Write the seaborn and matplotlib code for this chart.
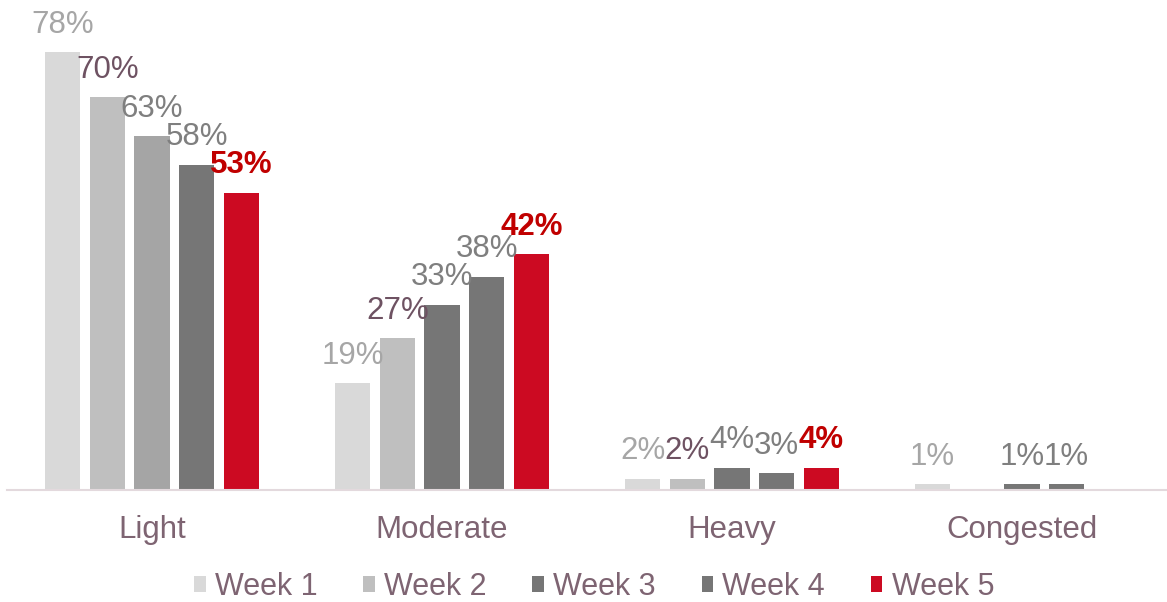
import pandas as pd
import matplotlib.pyplot as plt
import seaborn as sns

categories = ["Light", "Moderate", "Heavy", "Congested"]
weeks = ["Week 1", "Week 2", "Week 3", "Week 4", "Week 5"]
week1 = [78, 19, 2, 1]
week2 = [70, 27, 2, 0]
week3 = [63, 33, 4, 1]
week4 = [58, 38, 3, 1]
week5 = [53, 42, 4, 0]

bar_colors = ["#D9D9D9", "#BFBFBF", "#767676", "#767676", "#CC0A22"]
label_colors = ["#A6A6A6", "#6E5262", "#7F7F7F", "#7F7F7F", "#C00000"]
text_color = "#7E6472"

df = pd.DataFrame({"category": categories, "Week 1": week1, "Week 2": week2,
                   "Week 3": week3, "Week 4": week4, "Week 5": week5})
df = df.melt(id_vars="category", var_name="week", value_name="value")

sns.set_style("white")
plt.rcParams["font.family"] = ["Liberation Sans", "DejaVu Sans"]

fig = plt.figure(figsize=(11.67, 6.02), dpi=100)
ax = fig.add_axes([0.006, 1 - 490 / 602, 0.994, 477 / 602])

sns.barplot(data=df, x="category", y="value", hue="week", hue_order=weeks,
            palette=bar_colors, saturation=1, width=0.77, gap=0.21,
            linewidth=0, ax=ax)

ax.set_ylim(0, 85)
ax.set_xlim(-0.5, 3.5)
ax.set_xlabel("")
ax.set_ylabel("")
ax.set_yticks([])
ax.tick_params(axis="x", length=0, pad=18, labelsize=22.5, labelcolor=text_color)
for side in ["top", "right", "left"]:
    ax.spines[side].set_visible(False)
ax.spines["bottom"].set_color("#E3D9DD")
ax.spines["bottom"].set_linewidth(1.5)

# legend first so the handles keep the week colours
handles, labels = ax.get_legend_handles_labels()
ax.legend(handles, labels, loc="center", bbox_to_anchor=(0.509, 1 - 587 / 602),
          bbox_transform=fig.transFigure, ncol=5, frameon=False, fontsize=22,
          labelcolor=text_color, handlelength=0.38, handleheight=0.4,
          handletextpad=0.3, columnspacing=1.5, borderpad=0, borderaxespad=0)

# Light / Week 3 bar is a lighter grey in the original
ax.containers[2].patches[0].set_facecolor("#A5A5A5")

for i, cont in enumerate(ax.containers):
    vals = [p.get_height() for p in cont.patches]
    labs = [f"{v:.0f}%" if v > 0 else "" for v in vals]
    ax.bar_label(cont, labels=labs, padding=9, fontsize=22.5, color=label_colors[i],
                 fontweight="bold" if i == 4 else "normal")

fig.savefig("out.png", dpi=100)
